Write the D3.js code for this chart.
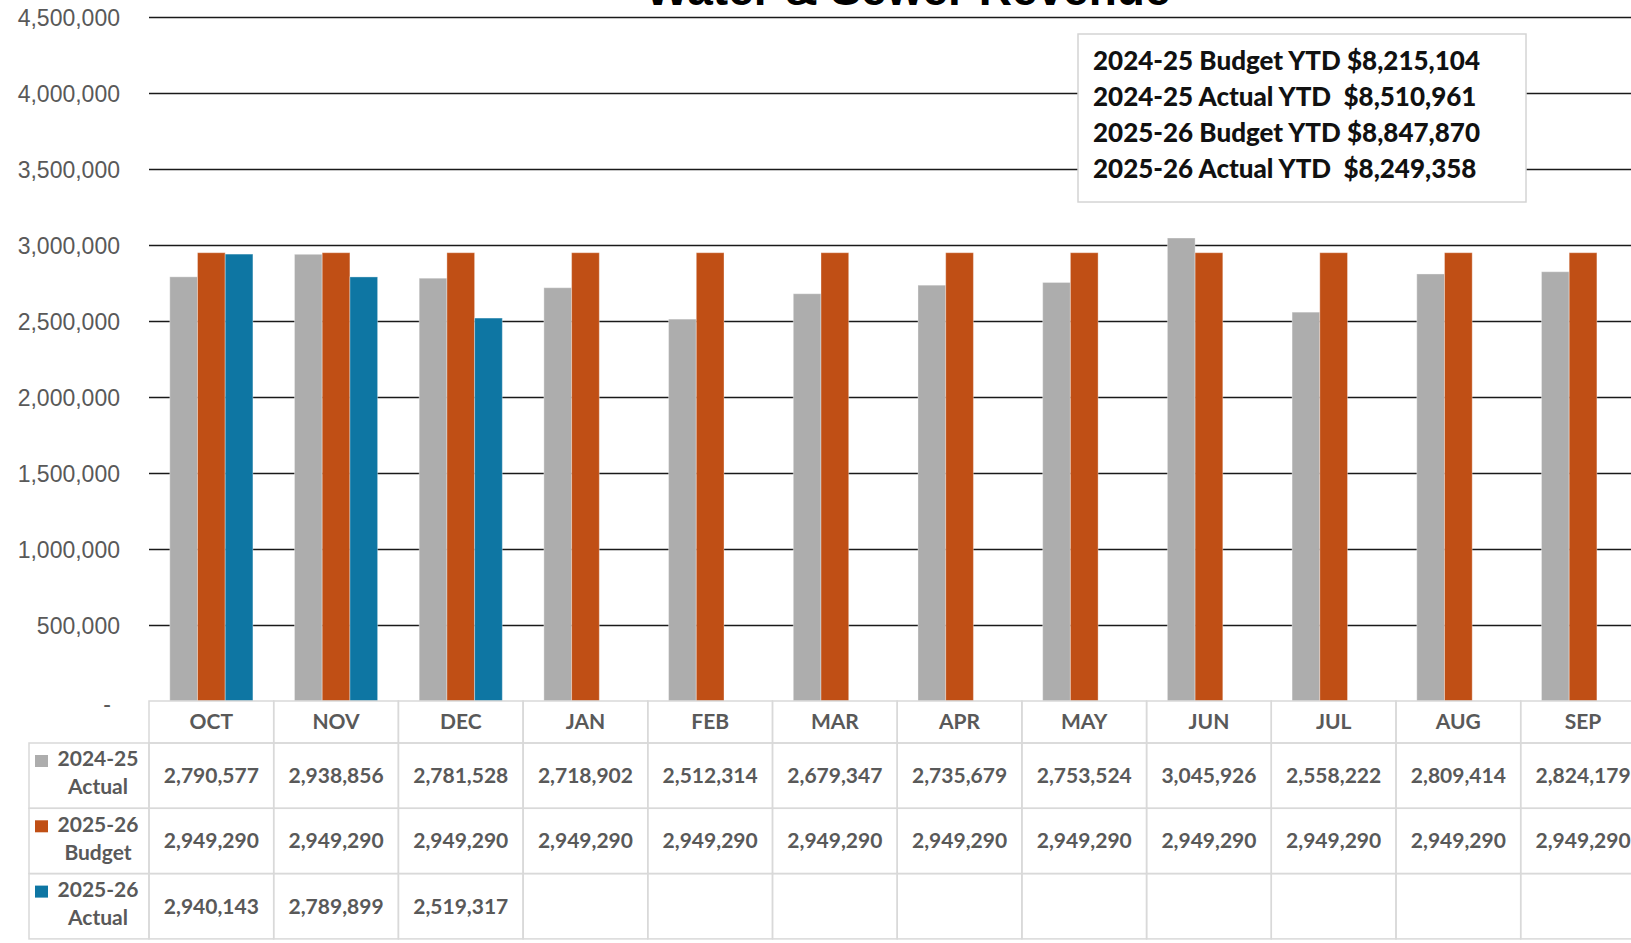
<!DOCTYPE html>
<html>
<head>
<meta charset="utf-8">
<script src="https://cdn.jsdelivr.net/npm/d3@7"></script>
<style>
  body { margin: 0; background: #fff; }
  svg { display: block; }
</style>
</head>
<body>
<script>
// data
var months = ["OCT", "NOV", "DEC", "JAN", "FEB", "MAR", "APR", "MAY", "JUN", "JUL", "AUG", "SEP"];
var actual2425 = [2790577, 2938856, 2781528, 2718902, 2512314, 2679347, 2735679, 2753524, 3045926, 2558222, 2809414, 2824179];
var budget2526 = [2949290, 2949290, 2949290, 2949290, 2949290, 2949290, 2949290, 2949290, 2949290, 2949290, 2949290, 2949290];
var actual2526 = [2940143, 2789899, 2519317, null, null, null, null, null, null, null, null, null];
var rowLabels = [["2024-25", "Actual"], ["2025-26", "Budget"], ["2025-26", "Actual"]];
var yTicks = [0, 500000, 1000000, 1500000, 2000000, 2500000, 3000000, 3500000, 4000000, 4500000];
var ytdLabels = ["2024-25 Budget YTD ", "2024-25 Actual YTD  ", "2025-26 Budget YTD ", "2025-26 Actual YTD  "];
var ytdValues = ["$8,215,104", "$8,510,961", "$8,847,870", "$8,249,358"];

var series = [actual2425, budget2526, actual2526];
var colors = ["#adadad", "#c04f15", "#0e76a3"];

var W = 1631, H = 943;
var left = 149, colW = 124.7;
var top0 = 17, base = 701;
var headH = 42, rowH = 65.3;
var tableFont = "Lato, 'Open Sans', sans-serif";

var svg = d3.select("body").append("svg")
    .attr("width", W)
    .attr("height", H);

// scales
var x0 = d3.scaleBand().domain(months).range([left, left + colW * months.length]);
var x1 = d3.scaleBand().domain([0, 1, 2]).range([0, x0.bandwidth()]).paddingOuter(0.75);
var y = d3.scaleLinear().domain([0, 4500000]).range([base, top0]);

// gridlines
var grid = svg.append("g")
    .attr("transform", "translate(" + left + ",0)")
    .call(d3.axisLeft(y)
        .tickValues(yTicks.slice(1))
        .tickSize(-(W - left))
        .tickFormat(""));
grid.select(".domain").remove();
grid.selectAll("line").attr("stroke", "#1a1a1a").attr("stroke-width", 1.6);

// y labels
var yAx = svg.append("g")
    .attr("transform", "translate(120,0)")
    .call(d3.axisLeft(y)
        .tickValues(yTicks)
        .tickSize(0)
        .tickPadding(0)
        .tickFormat(function(d) { return d === 0 ? "-" : d3.format(",")(d); }));
yAx.select(".domain").remove();
yAx.selectAll("text")
    .attr("fill", "#595959")
    .style("font-family", "'Liberation Sans', Arial, sans-serif")
    .style("font-size", "23px")
    .attr("dx", function(d) { return d === 0 ? -9 : 0; })
    .attr("dy", function(d) { return d === 0 ? "0.45em" : "0.35em"; });

// title (mostly cut off at the top, as in the source)
svg.append("text")
    .attr("x", 908)
    .attr("y", 5)
    .attr("text-anchor", "middle")
    .style("font-family", "'Liberation Sans', Arial, sans-serif")
    .style("font-weight", "bold")
    .style("font-size", "46px")
    .attr("fill", "#000")
    .text("Water & Sewer Revenue");

// bars
series.forEach(function(vals, i) {
  svg.append("g").selectAll("rect")
    .data(months.map(function(m, j) { return {m: m, v: vals[j]}; })
      .filter(function(d) { return d.v != null; }))
    .enter().append("rect")
    .attr("x", function(d) { return x0(d.m) + x1(i); })
    .attr("y", function(d) { return y(d.v); })
    .attr("width", x1.bandwidth())
    .attr("height", function(d) { return base - y(d.v); })
    .attr("fill", colors[i])
    .attr("stroke", "rgba(255,255,255,0.35)")
    .attr("stroke-width", 1);
});

// YTD box
var box = svg.append("g");
box.append("rect")
    .attr("x", 1078).attr("y", 34)
    .attr("width", 448).attr("height", 168)
    .attr("fill", "#fff")
    .attr("stroke", "#d4d4d4")
    .attr("stroke-width", 1.5);
ytdLabels.forEach(function(l, i) {
  box.append("text")
      .attr("x", 1093)
      .attr("y", 70 + i * 36)
      .attr("xml:space", "preserve")
      .style("white-space", "pre")
      .style("font-family", tableFont)
      .style("font-weight", "900")
      .style("font-size", "26px")
      .attr("fill", "#111")
      .text(l + ytdValues[i]);
});

// data table
var table = svg.append("g");
var border = "#d9d9d9";

// header row
months.forEach(function(m) {
  table.append("rect")
      .attr("x", x0(m)).attr("y", base)
      .attr("width", colW).attr("height", headH)
      .attr("fill", "none").attr("stroke", border).attr("stroke-width", 1.5);
  table.append("text")
      .attr("x", x0(m) + colW / 2)
      .attr("y", base + headH / 2)
      .attr("dy", "0.35em")
      .attr("text-anchor", "middle")
      .style("font-family", tableFont)
      .style("font-weight", "bold")
      .style("font-size", "21px")
      .attr("fill", "#595959")
      .text(m);
});

series.forEach(function(vals, r) {
  var ry = base + headH + r * rowH;
  table.append("rect")
      .attr("x", 29).attr("y", ry)
      .attr("width", left - 29).attr("height", rowH)
      .attr("fill", "none").attr("stroke", border).attr("stroke-width", 1.5);
  table.append("rect")
      .attr("x", 35).attr("y", ry + 12)
      .attr("width", 13).attr("height", 12)
      .attr("fill", colors[r]);
  rowLabels[r].forEach(function(s, k) {
    table.append("text")
        .attr("x", 98)
        .attr("y", ry + 16 + k * 28)
        .attr("dy", "0.35em")
        .attr("text-anchor", "middle")
        .style("font-family", tableFont)
        .style("font-weight", "bold")
        .style("font-size", "21px")
        .attr("fill", "#595959")
        .text(s);
  });
  months.forEach(function(m, j) {
    table.append("rect")
        .attr("x", x0(m)).attr("y", ry)
        .attr("width", colW).attr("height", rowH)
        .attr("fill", "none").attr("stroke", border).attr("stroke-width", 1.5);
    if (vals[j] != null) {
      table.append("text")
          .attr("x", x0(m) + colW / 2)
          .attr("y", ry + rowH / 2)
          .attr("dy", "0.35em")
          .attr("text-anchor", "middle")
          .style("font-family", tableFont)
          .style("font-weight", "bold")
          .style("font-size", "21px")
          .attr("fill", "#595959")
          .text(d3.format(",")(vals[j]));
    }
  });
});
</script>
</body>
</html>
